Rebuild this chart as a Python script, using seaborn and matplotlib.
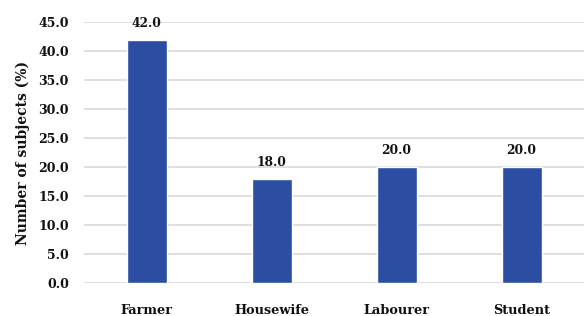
import numpy as np
import matplotlib.pyplot as plt
import seaborn as sns
import pandas as pd

occupations = ["Farmer", "Housewife", "Labourer", "Student"]
percent = [42.0, 18.0, 20.0, 20.0]
yticks = [0, 5, 10, 15, 20, 25, 30, 35, 40, 45]

df = pd.DataFrame({"occupation": occupations, "percent": percent})

sns.set_style("white")
plt.rcParams["font.family"] = ["DejaVu Serif"]
plt.rcParams["font.weight"] = "bold"
for k in ["text.color", "xtick.labelcolor", "ytick.labelcolor", "axes.labelcolor"]:
    plt.rcParams[k] = "#111111"

fig = plt.figure(figsize=(5.84, 3.16), dpi=100)
ax = fig.add_axes([0.144, 0.104, 0.856, 0.826])

sns.barplot(data=df, x="occupation", y="percent", color="#2B4EA2",
            saturation=1, width=0.32, ax=ax, zorder=3)

ax.set_ylim(0, 45)
ax.set_yticks(yticks)
ax.set_yticklabels([f"{v:.1f}" for v in yticks], fontsize=9, fontweight="bold")
ax.set_xticks(range(len(occupations)))
ax.set_xticklabels(occupations, fontsize=9.3, fontweight="bold")
ax.grid(axis="y", color="#d9d9d9", linewidth=1.2, zorder=0)
ax.tick_params(axis="both", length=0)
ax.tick_params(axis="y", pad=11)
ax.tick_params(axis="x", pad=15)
for s in ax.spines.values():
    s.set_visible(False)

ax.set_xlabel("")
ax.set_ylabel("Number of subjects (%)", fontsize=10, fontweight="bold", labelpad=6)

for c in ax.containers:
    ax.bar_label(c, fmt="%.1f", padding=7, fontsize=8.8, fontweight="bold")

fig.savefig("out.png", dpi=100)
